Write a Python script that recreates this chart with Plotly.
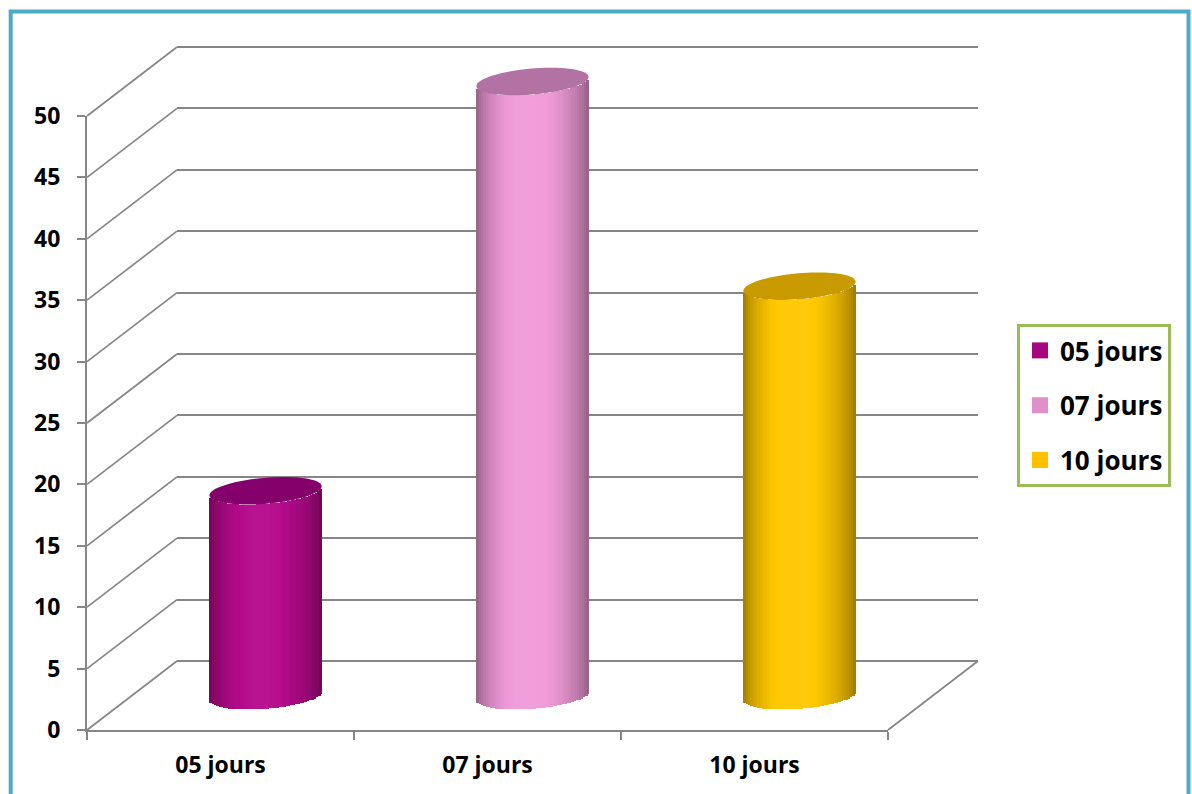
import numpy as np
import plotly.graph_objects as go

# ---------------- data ----------------
categories = ["05 jours", "07 jours", "10 jours"]
values = [16.67, 50.0, 33.33]
y_ticks = list(range(0, 51, 5))

legend_colors = ["#A6067F", "#E08FC8", "#FFC000"]
side_colors = ["#B50A8C", "#F09BD8", "#FFC800"]
top_colors = ["#84006A", "#B272A3", "#C99A00"]

# ---------------- geometry (page pixels) ----------------
W, H = 1192, 794
def px(x):
    return x / W
def py(y):
    return 1 - y / H

FX0, FX1 = 87, 888          # front frame left / right
FY0, FY1 = 730, 116         # front y of 0 and of 50
DX, DY = 90, -69            # depth offset of the back wall
YMAX = 50
UNIT = (FY0 - FY1) / YMAX   # px per value unit
GRID = "#868686"
PADV = 0.5                  # range padding for the back wall grid

# mid depth (cylinders)
MX0, MX1 = FX0 + DX / 2, FX1 + DX / 2
M0 = FY0 + DY / 2           # y px of value 0 at mid depth
C_LO, C_HI = -3, 56

fig = go.Figure()

# invisible anchor trace so the back-wall subplot is built
fig.add_trace(go.Scatter(x=[None], y=[None], xaxis="x2", yaxis="y2",
                         showlegend=False, hoverinfo="skip"))

# ---------------- cylinders (slices for shading) ----------------
n = len(categories)
xpos = list(range(n))
A = 0.21                    # half width in category units
B = 13 / UNIT               # ellipse half height (value units)
S = 4.5 / UNIT              # ellipse tilt (value units)
N = 48
sw = 2 * A / N

def shade(rgb_hex, f):
    r, g, b = (int(rgb_hex[i:i + 2], 16) for i in (1, 3, 5))
    if f <= 1:
        r, g, b = r * f, g * f, b * f
    else:
        k = min(f - 1, 1)
        r, g, b = r + (255 - r) * k, g + (255 - g) * k, b + (255 - b) * k
    return "rgb(%d,%d,%d)" % (round(r), round(g), round(b))

for k in range(N):
    tc = (k + 0.5) / N
    c = 2 * tc - 1
    f = 0.6 + 0.44 * (np.sin(np.pi * tc ** 0.9)) ** 0.7
    off = -A + k * sw
    wid = min(sw * 1.6, A - off)
    base_off = -B * np.sqrt(max(0.0, 1 - c * c)) + S * c
    fig.add_trace(go.Bar(
        x=xpos, y=values,
        base=[base_off] * n,
        width=wid, offset=off,
        marker=dict(color=[shade(col, f) for col in side_colors], line=dict(width=0)),
        xaxis="x3", yaxis="y3", showlegend=False, hoverinfo="skip",
    ))

theta = np.linspace(0, 2 * np.pi, 80)
for i, v in enumerate(values):
    xs = i + A * np.cos(theta)
    ys = v + B * np.sin(theta) + S * np.cos(theta)
    path = "M " + " L ".join("%.4f,%.4f" % (a, b) for a, b in zip(xs, ys)) + " Z"
    fig.add_shape(type="path", path=path, xref="x3", yref="y3",
                  fillcolor=top_colors[i], line=dict(width=0), layer="above")

# ---------------- legend entries ----------------
for i, cat in enumerate(categories):
    fig.add_trace(go.Scatter(
        x=[None], y=[None], mode="markers", name=cat, legendgroup=cat,
        marker=dict(symbol="square", size=16, color=legend_colors[i]),
        xaxis="x", yaxis="y",
    ))

# ---------------- 3D frame decoration ----------------
shapes = []
for v in y_ticks:
    yf = FY0 - v * UNIT
    shapes.append(dict(type="line", xref="paper", yref="paper",
                       x0=px(FX0), y0=py(yf), x1=px(FX0 + DX), y1=py(yf + DY),
                       line=dict(color=GRID, width=1.7), layer="below"))
shapes.append(dict(type="line", xref="paper", yref="paper",
                   x0=px(FX1), y0=py(FY0), x1=px(FX1 + DX), y1=py(FY0 + DY),
                   line=dict(color=GRID, width=1.7), layer="below"))
# outer frame
shapes.append(dict(type="rect", xref="paper", yref="paper",
                   x0=px(10.7), y0=py(11.5), x1=px(1188.5), y1=py(820),
                   line=dict(color="#4BACC6", width=4), layer="above"))
for s in shapes:
    fig.add_shape(**s)

font_family = "'Open Sans', Lato, sans-serif"

fig.update_layout(
    template="none",
    width=W, height=H, autosize=False,
    margin=dict(l=0, r=0, t=0, b=0, pad=0),
    paper_bgcolor="white", plot_bgcolor="rgba(0,0,0,0)",
    barmode="overlay", bargap=0,
    font=dict(family=font_family, color="black"),
    # front frame with labels
    xaxis=dict(domain=[px(FX0), px(FX1)], anchor="y", range=[-0.5, n - 0.5],
               automargin=False,
               tickmode="array", tickvals=xpos, ticktext=categories,
               ticks="", showgrid=False, zeroline=False,
               showline=True, linecolor=GRID, linewidth=2,
               tickfont=dict(size=23, weight="bold"), ticklabelstandoff=13,
               minor=dict(tickmode="array", tickvals=[i - 0.5 for i in range(n + 1)],
                          ticks="outside", ticklen=8, tickwidth=2, tickcolor=GRID,
                          showgrid=False)),
    yaxis=dict(domain=[py(FY0), py(FY1)], anchor="x", range=[0, YMAX],
               automargin=False,
               tickmode="array", tickvals=y_ticks,
               ticks="outside", ticklen=8, tickwidth=2, tickcolor=GRID,
               showgrid=False, zeroline=False,
               showline=True, linecolor=GRID, linewidth=2,
               tickfont=dict(size=23, weight="bold"), ticklabelstandoff=12),
    # back wall gridlines
    xaxis2=dict(domain=[px(FX0 + DX), px(FX1 + DX)], anchor="y2", range=[0, 1],
                automargin=False, showgrid=False, zeroline=False,
                showticklabels=False, ticks="", showline=False),
    yaxis2=dict(domain=[py(FY0 + DY + PADV * UNIT), py(FY1 + DY - PADV * UNIT)],
                anchor="x2", automargin=False,
                range=[-PADV, YMAX + PADV], tickmode="array", tickvals=y_ticks,
                showgrid=True, gridcolor=GRID, gridwidth=2.2, zeroline=False,
                showticklabels=False, ticks="", showline=False),
    # mid depth for cylinders
    xaxis3=dict(domain=[px(MX0), px(MX1)], anchor="y3", range=[-0.5, n - 0.5],
                automargin=False, visible=False),
    yaxis3=dict(domain=[py(M0 - C_LO * UNIT), py(M0 - C_HI * UNIT)], anchor="x3",
                automargin=False, range=[C_LO, C_HI], visible=False),
    legend=dict(x=px(1017), y=py(324), xanchor="left", yanchor="top",
                bordercolor="#9BBB59", borderwidth=3, bgcolor="white",
                font=dict(size=26, weight="bold", color="black"),
                tracegroupgap=18, itemsizing="trace"),
    showlegend=True,
)

fig.write_html("out.html")
